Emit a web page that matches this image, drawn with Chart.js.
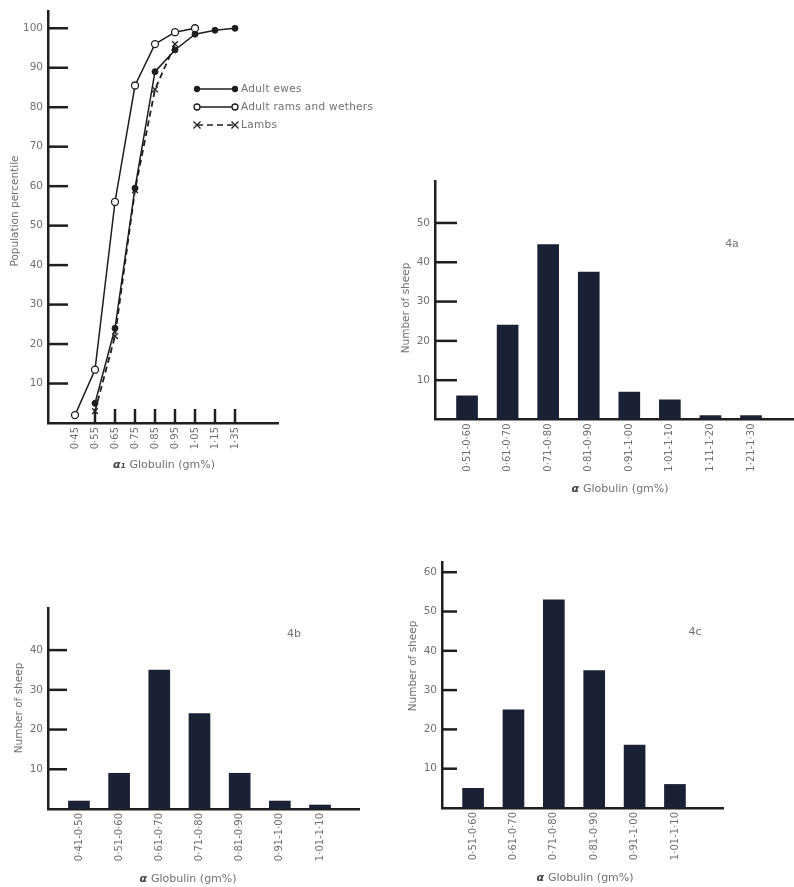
<!DOCTYPE html>
<html>
<head>
<meta charset="utf-8">
<script src="https://cdn.jsdelivr.net/npm/chart.js@4/dist/chart.umd.min.js"></script>
<style>
  body { margin: 0; background: #fff; width: 794px; height: 887px; position: relative; overflow: hidden; font-family: 'DejaVu Sans', sans-serif; color: #707070; }
  canvas { position: absolute; }
  .lbl { position: absolute; font-size: 11px; white-space: nowrap; transform: translate(-50%, -50%); }
  .rot { transform: translate(-50%, -50%) rotate(-90deg); font-size: 10.5px; }
  .alpha { font-style: italic; font-weight: bold; color: #444; margin-right: 4px; }
</style>
</head>
<body>
<canvas id="cumChart" width="390" height="475" style="left:0;top:0"></canvas>
<canvas id="chart4a" width="414" height="330" style="left:380px;top:170px"></canvas>
<canvas id="chart4b" width="390" height="327" style="left:0;top:560px"></canvas>
<canvas id="chart4c" width="404" height="347" style="left:390px;top:540px"></canvas>

<div class="lbl rot" style="left:14px;top:211px">Population percentile</div>
<div class="lbl" style="left:164px;top:464px"><span class="alpha">α₁</span>Globulin (gm%)</div>
<div class="lbl rot" style="left:405px;top:308px">Number of sheep</div>
<div class="lbl" style="left:620px;top:488px"><span class="alpha">α</span>Globulin (gm%)</div>
<div class="lbl" style="left:732px;top:243px">4a</div>
<div class="lbl rot" style="left:18px;top:708px">Number of sheep</div>
<div class="lbl" style="left:188px;top:878px"><span class="alpha">α</span>Globulin (gm%)</div>
<div class="lbl" style="left:294px;top:633px">4b</div>
<div class="lbl rot" style="left:412px;top:666px">Number of sheep</div>
<div class="lbl" style="left:585px;top:877px"><span class="alpha">α</span>Globulin (gm%)</div>
<div class="lbl" style="left:695px;top:631px">4c</div>

<script>
// cumulative distribution (population percentile)
const globulinLevels = [0.45, 0.55, 0.65, 0.75, 0.85, 0.95, 1.05, 1.15, 1.25];
const levelLabels = ['0·45', '0·55', '0·65', '0·75', '0·85', '0·95', '1·05', '1·15', '1·35'];
const ewesPct = [null, 5, 24, 59.5, 89, 94.5, 98.5, 99.5, 100];
const ramsPct = [2, 13.5, 56, 85.5, 96, 99, 100, null, null];
const lambsPct = [null, 3, 22, 59, 84.5, 96, null, null, null];
const pctTicks = [10, 20, 30, 40, 50, 60, 70, 80, 90, 100];

// histograms: number of sheep per globulin range
const ranges4a = ['0·51-0·60', '0·61-0·70', '0·71-0·80', '0·81-0·90', '0·91-1·00', '1·01-1·10', '1·11-1·20', '1·21-1·30'];
const sheep4a = [6, 24, 44.5, 37.5, 7, 5, 1, 1];
const ticks4a = [10, 20, 30, 40, 50];

const ranges4b = ['0·41-0·50', '0·51-0·60', '0·61-0·70', '0·71-0·80', '0·81-0·90', '0·91-1·00', '1·01-1·10'];
const sheep4b = [2, 9, 35, 24, 9, 2, 1];
const ticks4b = [10, 20, 30, 40];

const ranges4c = ['0·51-0·60', '0·61-0·70', '0·71-0·80', '0·81-0·90', '0·91-1·00', '1·01-1·10'];
const sheep4c = [5, 25, 53, 35, 16, 6];
const ticks4c = [10, 20, 30, 40, 50, 60];

const INK = '#1e1e1e';
const TEXT = '#707070';
Chart.defaults.font.family = "'DejaVu Sans', sans-serif";
Chart.defaults.color = TEXT;

// tick marks that sit inside the plot, like the printed figure
const innerTicks = {
  id: 'innerTicks',
  beforeDatasetsDraw(chart, args, opts) {
    const { ctx, scales: { x, y }, chartArea } = chart;
    ctx.save();
    ctx.strokeStyle = INK;
    ctx.lineWidth = 2.5;
    y.ticks.forEach(t => {
      const py = y.getPixelForValue(t.value);
      ctx.beginPath();
      ctx.moveTo(chartArea.left, py);
      ctx.lineTo(chartArea.left + opts.yLen, py);
      ctx.stroke();
    });
    if (opts.xLen) {
      x.ticks.forEach((t, i) => {
        if (i < opts.xFrom) return;
        const px = x.getPixelForValue(t.value);
        ctx.beginPath();
        ctx.moveTo(px, chartArea.bottom);
        ctx.lineTo(px, chartArea.bottom - opts.xLen);
        ctx.stroke();
      });
    }
    ctx.restore();
  }
};

// legend drawn as a short line with a marker at each end
function drawMarker(ctx, ds, x, y) {
  ctx.fillStyle = ds.pointBackgroundColor;
  ctx.strokeStyle = ds.pointBorderColor;
  ctx.lineWidth = 1.3;
  const r = ds.pointRadius - 0.5;
  ctx.beginPath();
  if (ds.pointStyle === 'crossRot') {
    ctx.moveTo(x - r, y - r); ctx.lineTo(x + r, y + r);
    ctx.moveTo(x - r, y + r); ctx.lineTo(x + r, y - r);
    ctx.stroke();
  } else {
    ctx.arc(x, y, r, 0, Math.PI * 2);
    ctx.fill();
    ctx.stroke();
  }
}

const lineLegend = {
  id: 'lineLegend',
  afterDraw(chart, args, opts) {
    const ctx = chart.ctx;
    chart.data.datasets.forEach((ds, i) => {
      const y = opts.y + i * opts.gap;
      ctx.save();
      ctx.strokeStyle = ds.borderColor;
      ctx.lineWidth = 1.4;
      ctx.setLineDash(ds.borderDash || []);
      ctx.beginPath();
      ctx.moveTo(opts.x, y);
      ctx.lineTo(opts.x + opts.len, y);
      ctx.stroke();
      ctx.setLineDash([]);
      drawMarker(ctx, ds, opts.x, y);
      drawMarker(ctx, ds, opts.x + opts.len, y);
      ctx.fillStyle = TEXT;
      ctx.font = "10.5px 'DejaVu Sans'";
      ctx.letterSpacing = '0.3px';
      ctx.textBaseline = 'middle';
      ctx.fillText(ds.label, opts.x + opts.len + 6, y);
      ctx.restore();
    });
  }
};

function toPoints(xs, ys) {
  return xs.map((x, i) => ({ x: x, y: ys[i] }));
}

function valueAxis(max, tickValues, width) {
  return {
    min: 0,
    max: max,
    afterBuildTicks: s => { s.ticks = tickValues.map(v => ({ value: v })); },
    afterFit: s => { s.width = width; },
    grid: { display: false, drawTicks: false },
    border: { display: true, color: INK, width: 2.5 },
    ticks: { padding: 5, font: { size: 10.5 }, color: TEXT }
  };
}

function labelAxis(min, max, positions, labels, height) {
  return {
    type: 'linear',
    offset: false,
    min: min,
    max: max,
    afterBuildTicks: s => { s.ticks = positions.map(v => ({ value: v })); },
    afterFit: s => { s.height = height; },
    grid: { display: false, drawTicks: false, offset: false },
    border: { display: true, color: INK, width: 2.5 },
    ticks: {
      autoSkip: false, minRotation: 90, maxRotation: 90, padding: 4,
      font: { size: 10 }, color: TEXT,
      callback: (v, i) => labels[i]
    }
  };
}

new Chart(document.getElementById('cumChart'), {
  type: 'line',
  data: {
    datasets: [
      { label: 'Adult ewes', data: toPoints(globulinLevels, ewesPct), borderColor: INK, borderWidth: 1.5,
        pointStyle: 'circle', pointRadius: 3, pointBackgroundColor: INK, pointBorderColor: INK, pointBorderWidth: 1 },
      { label: 'Adult rams and wethers', data: toPoints(globulinLevels, ramsPct), borderColor: INK, borderWidth: 1.5,
        pointStyle: 'circle', pointRadius: 3.5, pointBackgroundColor: '#fff', pointBorderColor: INK, pointBorderWidth: 1.3 },
      { label: 'Lambs', data: toPoints(globulinLevels, lambsPct), borderColor: INK, borderWidth: 1.8, borderDash: [6, 4],
        pointStyle: 'crossRot', pointRadius: 4, pointBackgroundColor: INK, pointBorderColor: INK, pointBorderWidth: 1.3 }
    ]
  },
  options: {
    responsive: false,
    animation: false,
    layout: { padding: { top: 8, right: 112, left: 0, bottom: 0 } },
    plugins: {
      legend: { display: false },
      tooltip: { enabled: false },
      innerTicks: { yLen: 20, xLen: 14, xFrom: 1 },
      lineLegend: { x: 197, y: 89, gap: 18, len: 38 }
    },
    scales: {
      x: labelAxis(0.315, 1.465, globulinLevels, levelLabels, 52),
      y: valueAxis(104.3, pctTicks, 48)
    }
  },
  plugins: [innerTicks, lineLegend]
});

function barChart(id, ranges, counts, tickValues, geo) {
  const idx = ranges.map((r, i) => i);
  new Chart(document.getElementById(id), {
    type: 'bar',
    data: {
      datasets: [{
        data: toPoints(idx, counts),
        backgroundColor: '#1b2135',
        borderWidth: 0,
        barThickness: 21
      }]
    },
    options: {
      responsive: false,
      animation: false,
      layout: { padding: { top: geo.top, right: geo.right, left: 0, bottom: 0 } },
      plugins: {
        legend: { display: false },
        tooltip: { enabled: false },
        innerTicks: { yLen: geo.tick, xLen: 0 }
      },
      scales: {
        x: labelAxis(geo.xMin, geo.xMax, idx, ranges, geo.xHeight),
        y: valueAxis(geo.yMax, tickValues, geo.yWidth)
      }
    },
    plugins: [innerTicks]
  });
}

barChart('chart4a', ranges4a, sheep4a, ticks4a,
  { top: 10, right: 0, yWidth: 55, xHeight: 80.5, xMin: -0.79, xMax: 8.06, yMax: 60.6, tick: 22 });
barChart('chart4b', ranges4b, sheep4b, ticks4b,
  { top: 48, right: 31, yWidth: 48, xHeight: 78, xMin: -0.77, xMax: 6.97, yMax: 50.6, tick: 19 });
barChart('chart4c', ranges4c, sheep4c, ticks4c,
  { top: 22, right: 71, yWidth: 52, xHeight: 79, xMin: -0.77, xMax: 6.19, yMax: 62.6, tick: 15 });
</script>
</body>
</html>
